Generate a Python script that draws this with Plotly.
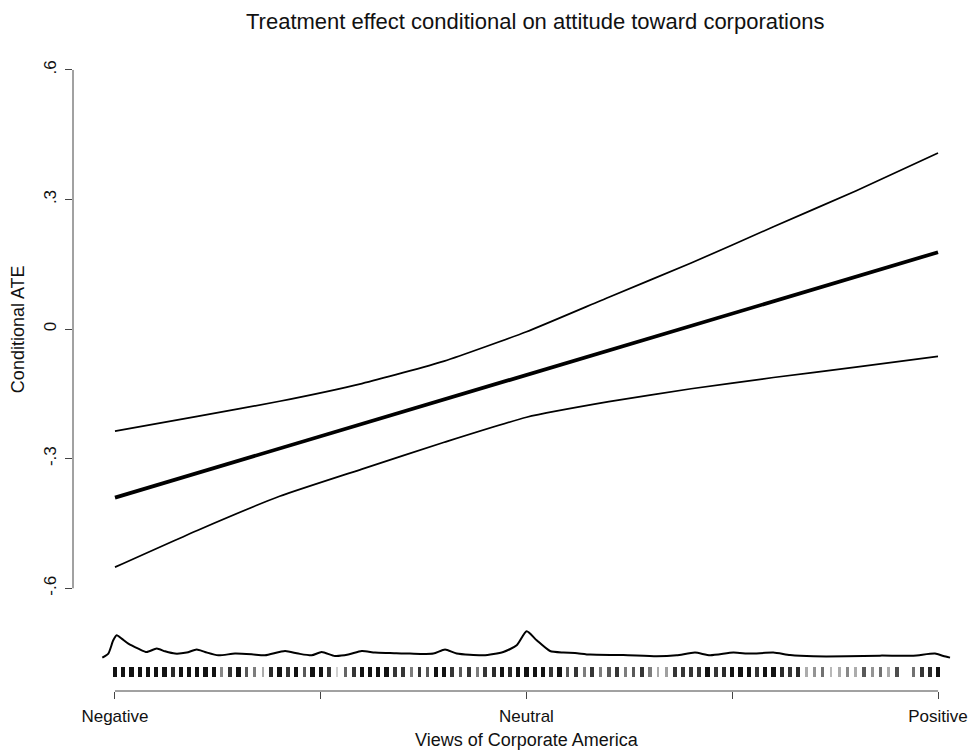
import plotly.graph_objects as go

# ---------------- data ----------------
# attitude scale: 0 = Negative, 50 = Neutral, 100 = Positive
grid_x = [0, 10, 20, 30, 40, 50, 60, 70, 80, 90, 100]
ate_est = [-0.390, -0.333, -0.276, -0.219, -0.163, -0.106, -0.049, 0.008, 0.065, 0.122, 0.178]
ate_upper = [-0.236, -0.202, -0.167, -0.126, -0.074, -0.006, 0.074, 0.153, 0.237, 0.320, 0.408]
ate_lower = [-0.551, -0.466, -0.387, -0.324, -0.262, -0.204, -0.168, -0.138, -0.112, -0.088, -0.063]

density_x = [-1.54, -0.81, -0.21, 0.21, 0.81, 1.62, 2.83, 3.85, 5.07, 6.08, 7.29, 8.71, 9.93,
             10.94, 12.55, 14.58, 16.61, 18.23, 20.66, 22.27, 23.90, 25.12, 26.73, 28.35, 29.98,
             31.59, 33.41, 35.84, 38.68, 40.10, 41.52, 44.75, 47.18, 48.81, 50.02, 51.24, 52.86,
             54.47, 55.89, 57.72, 61.76, 65.82, 68.25, 70.47, 72.30, 75.13, 77.16, 79.99, 82.02,
             84.85, 88.90, 92.95, 97.00, 99.64, 100.64, 101.46]
density_y = [-0.7605, -0.7512, -0.7204, -0.7088, -0.7165, -0.7281, -0.7396, -0.7475, -0.7396,
             -0.7459, -0.7512, -0.7489, -0.7419, -0.7475, -0.7552, -0.7512, -0.7528, -0.7552,
             -0.7452, -0.7512, -0.7552, -0.7475, -0.7568, -0.7535, -0.7452, -0.7489, -0.7498,
             -0.7512, -0.7512, -0.7419, -0.7512, -0.7552, -0.7475, -0.7320, -0.6996, -0.7204,
             -0.7452, -0.7489, -0.7498, -0.7535, -0.7545, -0.7575, -0.7552, -0.7489, -0.7552,
             -0.7489, -0.7512, -0.7489, -0.7545, -0.7575, -0.7575, -0.7559, -0.7559, -0.7512,
             -0.7568, -0.7605]

rug_scores = list(range(0, 101))
rug_density = [1, 1, 1, 1, 1, 1, 1, 0.9, 1, 1, 1, 1, 1,
               0.5, 0.85, 1, 0.7, 0.55, 0.35, 0.9, 1, 0.85, 1, 0.7, 1, 1, 0.85, 0.2, 0.65, 0.85, 1, 1, 1, 1,
               0.85, 0.85, 0.55, 0.85, 0.7, 1, 1, 0.85, 0.7, 0.85, 0.55, 0.85, 0.9, 1, 0.9, 1, 1, 1, 1, 0.85,
               1, 0.7, 0.85, 0.55, 0.85, 0.55, 0.7, 0.85, 0.55, 0.7, 0.85, 0.55, 0.35, 0.4, 0.85,
               0.85, 0.85, 0.85, 1, 0.85, 0.9, 1, 1, 1, 0.85, 1, 1, 0.9, 0.85, 0.9, 0.35, 0.45, 0.6, 0.3,
               0.35, 0.5, 0.35, 0.7, 0.45, 0.6, 0.35, 0.75, 0.0, 0.6, 0.85, 0.9, 1]

y_ticks = [-0.6, -0.3, 0, 0.3, 0.6]
y_tick_labels = ["-.6", "-.3", "0", ".3", ".6"]
x_ticks = [0, 25, 50, 75, 100]
x_tick_labels = ["Negative", "", "Neutral", "", "Positive"]

title_text = "Treatment effect conditional on attitude toward corporations"
x_title = "Views of Corporate America"
y_title = "Conditional ATE"

# ---------------- figure ----------------
FONT = "Liberation Sans, Arial, Helvetica, sans-serif"
RUG_BOTTOM, RUG_TOP = -0.806, -0.783

fig = go.Figure()

# rug
rx, rcol, rw = [], [], []
for s, d in zip(rug_scores, rug_density):
    if d <= 0:
        continue
    g = int(round(255 * (1 - 0.93 * d)))
    rx.append(s)
    rcol.append(f"rgb({g},{g},{g})")
    rw.append(0.2 + 0.32 * d)
fig.add_trace(go.Bar(x=rx, y=[RUG_TOP - RUG_BOTTOM] * len(rx), base=RUG_BOTTOM,
                     width=rw, marker=dict(color=rcol, line=dict(width=0)),
                     showlegend=False, hoverinfo="skip"))

# density
fig.add_trace(go.Scatter(x=density_x, y=density_y, mode="lines",
                         line=dict(color="black", width=2, shape="spline", smoothing=0.6),
                         showlegend=False))

# CI and estimate
fig.add_trace(go.Scatter(x=grid_x, y=ate_upper, mode="lines",
                         line=dict(color="black", width=1.7, shape="spline", smoothing=0.5),
                         showlegend=False))
fig.add_trace(go.Scatter(x=grid_x, y=ate_lower, mode="lines",
                         line=dict(color="black", width=1.7, shape="spline", smoothing=0.5),
                         showlegend=False))
fig.add_trace(go.Scatter(x=grid_x, y=ate_est, mode="lines",
                         line=dict(color="black", width=3.8),
                         showlegend=False))

axis_col = "#444444"
fig.update_xaxes(range=[-5.1, 104.25], tickvals=x_ticks, ticktext=x_tick_labels,
                 ticks="outside", ticklen=7, tickwidth=1, tickcolor=axis_col,
                 showgrid=False, zeroline=False, showline=False, ticklabeloverflow="allow",
                 tickfont=dict(family=FONT, size=17, color="#111"), ticklabelstandoff=3)
fig.update_yaxes(range=[-0.8378, 0.6231], tickvals=y_ticks, ticktext=y_tick_labels,
                 ticks="outside", ticklen=7, tickwidth=1, tickcolor=axis_col,
                 showgrid=False, zeroline=False, showline=False, tickangle=-90,
                 tickfont=dict(family=FONT, size=17, color="#111"), ticklabelstandoff=2)

fig.add_shape(type="line", xref="paper", yref="y", x0=0, x1=0, y0=y_ticks[0], y1=y_ticks[-1],
              line=dict(color=axis_col, width=1))
fig.add_shape(type="line", xref="x", yref="paper", x0=x_ticks[0], x1=x_ticks[-1], y0=0, y1=0,
              line=dict(color=axis_col, width=1))

# plot area 73..973 x 60..691 (page pixels, body margin removed below)
PH = 631.0
fig.add_annotation(text=title_text, xref="x", yref="paper", x=51.0, y=(691 - 22) / PH,
                   showarrow=False, xanchor="center", yanchor="middle",
                   font=dict(family=FONT, size=22, color="#111"))
fig.add_annotation(text=x_title, xref="x", yref="paper", x=50, y=(691 - 740) / PH,
                   showarrow=False, xanchor="center", yanchor="middle",
                   font=dict(family=FONT, size=18, color="#111"))
fig.add_annotation(text=y_title, xref="paper", yref="y", x=(18 - 73) / 900.0, y=0,
                   showarrow=False, xanchor="center", yanchor="middle", textangle=-90,
                   font=dict(family=FONT, size=18, color="#111"))

fig.update_layout(width=973, height=752, margin=dict(l=73, r=0, t=60, b=61),
                  plot_bgcolor="white", paper_bgcolor="white", bargap=0)

fig.write_html("out.html", config={"displayModeBar": False},
               post_script="document.body.style.margin='0px';document.body.style.overflow='hidden';")
